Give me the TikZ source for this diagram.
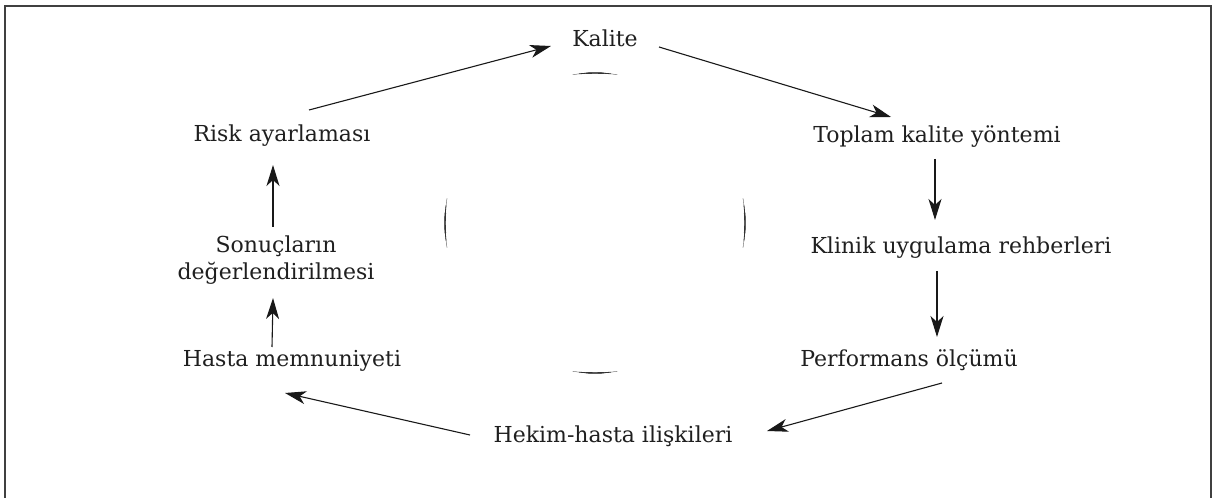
\documentclass[tikz,border=0pt]{standalone}
\usepackage{fontspec}
\setmainfont{DejaVu Serif}
\usetikzlibrary{arrows.meta,calc}

\begin{document}
\begin{tikzpicture}[x=1pt,y=1pt,
  lbl/.style={inner sep=0pt, anchor=base, font=\fontsize{22}{27}\selectfont, text=black!88},
  flow/.style={line width=1.1pt, draw=black!90,
    -{Stealth[length=21pt,width=13pt,inset=6pt]}},
  frame/.style={line width=1.4pt, draw=black!75},
  ring/.style={draw=black!80, line cap=round}]

\useasboundingbox (0,0) rectangle (1216,498);

% open frame: left, top and right sides
\draw[frame] (5,-2) -- (5,492) -- (1211,492) -- (1211,-2);

% labels of the cycle
\node[lbl] (kal)  at (605,451) {Kalite};
\node[lbl] (top)  at (937,355) {Toplam kalite yöntemi};
\node[lbl] (kli)  at (961,244) {Klinik uygulama rehberleri};
\node[lbl] (per)  at (909,131) {Performans ölçümü};
\node[lbl] (hek)  at (613,55)  {Hekim-hasta ilişkileri};
\node[lbl] (has)  at (292,131) {Hasta memnuniyeti};
% two-line label: its base anchor sits on the second line
\node[lbl, align=center] (son) at (276,218) {Sonuçların\\değerlendirilmesi};
\node[lbl] (risk) at (282,356) {Risk ayarlaması};

% connectors
\draw[flow] ($(risk.base)+(27,32)$) -- ($(kal.base)+(-54,1)$);
\draw[flow] ($(kal.base)+(54,0)$)   -- ($(top.base)+(-46,26)$);
\draw[flow] ($(top.base)+(-2,-16)$) -- ($(kli.base)+(-26,34)$);
\draw[flow] ($(kli.base)+(-24,-17)$) -- ($(per.base)+(28,30)$);
\draw[flow] ($(per.base)+(33,-16)$) -- ($(hek.base)+(154,12)$);
\draw[flow] ($(hek.base)+(-143,8)$) -- ($(has.base)+(-7,-26)$);
\draw[flow] ($(has.base)+(-20,20)$) -- ($(son.base)+(-3,-18)$);
\draw[flow] ($(son.base)+(-3,53)$)  -- ($(risk.base)+(-9,-23)$);

% faint circle fragments in the middle, tapered at both ends
\coordinate (ctr) at (595,275);
\foreach \a/\h in {90/8.5, 270/8.5, 180/9.5, 0/9.5} {
  \draw[ring, line width=0.3pt] ($(ctr)+(\a-\h:150)$) arc[start angle=\a-\h, end angle=\a+\h, radius=150];
  \draw[ring, line width=0.8pt] ($(ctr)+(\a-0.7*\h:150)$) arc[start angle=\a-0.7*\h, end angle=\a+0.7*\h, radius=150];
  \draw[ring, line width=1.4pt] ($(ctr)+(\a-0.4*\h:150)$) arc[start angle=\a-0.4*\h, end angle=\a+0.4*\h, radius=150];
}
\end{tikzpicture}
\end{document}
